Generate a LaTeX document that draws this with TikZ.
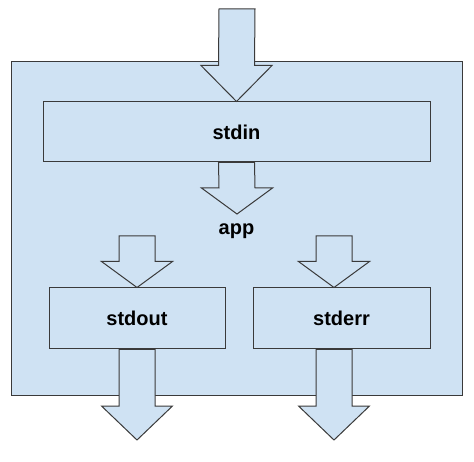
\documentclass[tikz,border=0pt]{standalone}
\usepackage{fontspec}
\setmainfont{Liberation Sans}
\usetikzlibrary{calc,positioning}
\definecolor{boxfill}{HTML}{CFE2F3}
\definecolor{boxline}{HTML}{3A3A3A}
\tikzset{
  box/.style={draw=boxline, fill=boxfill, line width=1pt, inner sep=0pt,
    font=\fontsize{20}{24}\selectfont\bfseries},
  boxtext/.style={inner sep=0pt, font=\fontsize{20}{24}\selectfont\bfseries},
  arrowbody/.style={draw=boxline, fill=boxfill, line width=1pt, line join=miter}
}
% block arrow: from (#1) down to tip (#2), head length #3
\def\fatarrow(#1)(#2)#3{\draw[arrowbody] ($(#1)+(-18,0)$) -- ($(#2)+(-18,-#3)$) -- ($(#2)+(-35.5,-#3)$) -- (#2) -- ($(#2)+(35.5,-#3)$) -- ($(#2)+(18,-#3)$) -- ($(#1)+(18,0)$) -- cycle;}

\begin{document}
\begin{tikzpicture}[x=1pt, y=-1pt]
		%%%%% START %%%%%
		\useasboundingbox (0,0) rectangle (474,462);
		
		\node[box, minimum width=451pt, minimum height=333pt] (app) at (236.5, 228.5) {};
		\node[boxtext] (applabel) at (236.5, 231.5) {app};
		
		\node[box, minimum width=387pt, minimum height=60pt] (stdin) at (236.5, 132) {stdin};
		\node[box, minimum width=176pt, minimum height=61pt] (stdout) at (137, 318.5) {stdout};
		\node[box, minimum width=177pt, minimum height=61pt] (stderr) at (341.5, 318.5) {stderr};
		
		\coordinate (feed) at (237, 9);
		\coordinate (intip) at (237, 214);
		\coordinate (outtop) at (137, 236);
		\coordinate (errtop) at (334, 236);
		\coordinate (errin) at ($(stderr.north)+(-7.5,0)$);
		\coordinate (errout) at ($(stderr.south)+(-7.5,0)$);
		\coordinate (outtip) at (137, 440);
		\coordinate (errtip) at (334, 440);
		
		\fatarrow(feed)(stdin.north){36}
		\fatarrow(stdin.south)(intip){26}
		\fatarrow(outtop)(stdout.north){26}
		\fatarrow(errtop)(errin){26}
		\fatarrow(stdout.south)(outtip){34}
		\fatarrow(errout)(errtip){34}
		
		%%%%% END %%%%%
	\end{tikzpicture}
\end{document}
